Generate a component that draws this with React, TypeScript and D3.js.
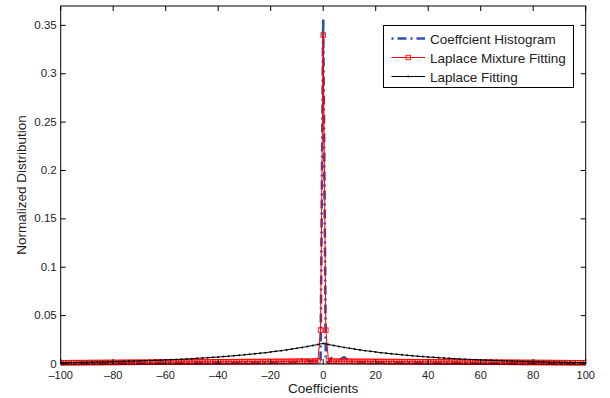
import React from "react";
import * as d3 from "d3";

const xTicks = [-100, -80, -60, -40, -20, 0, 20, 40, 60, 80, 100];
const yTicks = [0, 0.05, 0.1, 0.15, 0.2, 0.25, 0.3, 0.35];
const yTickLabels = ["0", "0.05", "0.1", "0.15", "0.2", "0.25", "0.3", "0.35"];
const seriesNames = ["Coeffcient Histogram", "Laplace Mixture Fitting", "Laplace Fitting"];

// Coefficient values (bins) for histogram and mixture fit
const coeffX = d3.range(-100, 101, 1);
// Coefficient values for the Laplace fit
const laplaceX = d3.range(-100, 101, 2);

const histogram = [
  0.0008, 0.0009, 0.0008, 0.0009, 0.0009, 0.0008, 0.0009, 0.0009, 0.0010, 0.0009,
  0.0009, 0.0010, 0.0009, 0.0010, 0.0010, 0.0009, 0.0010, 0.0010, 0.0011, 0.0010,
  0.0010, 0.0011, 0.0010, 0.0011, 0.0011, 0.0010, 0.0011, 0.0011, 0.0012, 0.0011,
  0.0011, 0.0012, 0.0011, 0.0012, 0.0012, 0.0011, 0.0012, 0.0012, 0.0013, 0.0012,
  0.0012, 0.0013, 0.0012, 0.0013, 0.0013, 0.0012, 0.0013, 0.0013, 0.0014, 0.0013,
  0.0013, 0.0014, 0.0013, 0.0014, 0.0014, 0.0013, 0.0014, 0.0014, 0.0015, 0.0014,
  0.0014, 0.0015, 0.0014, 0.0015, 0.0015, 0.0014, 0.0015, 0.0016, 0.0015, 0.0016,
  0.0015, 0.0016, 0.0016, 0.0015, 0.0017, 0.0016, 0.0016, 0.0017, 0.0016, 0.0017,
  0.0018, 0.0017, 0.0018, 0.0019, 0.0018, 0.0020, 0.0019, 0.0021, 0.0020, 0.0022,
  0.0024, 0.0030, 0.0048, 0.0060, 0.0042, 0.0022, 0.0030, 0.0058, 0.0015, 0.0045,
  0.3565,
  0.0042, 0.0012, 0.0062, 0.0050, 0.0026, 0.0022, 0.0055, 0.0070, 0.0048, 0.0028,
  0.0024, 0.0022, 0.0021, 0.0022, 0.0020, 0.0021, 0.0026, 0.0019, 0.0018, 0.0019,
  0.0017, 0.0018, 0.0017, 0.0016, 0.0017, 0.0016, 0.0016, 0.0015, 0.0016, 0.0015,
  0.0015, 0.0014, 0.0015, 0.0014, 0.0014, 0.0013, 0.0014, 0.0013, 0.0013, 0.0014,
  0.0013, 0.0012, 0.0013, 0.0013, 0.0012, 0.0012, 0.0013, 0.0012, 0.0012, 0.0011,
  0.0012, 0.0011, 0.0012, 0.0011, 0.0011, 0.0011, 0.0010, 0.0011, 0.0011, 0.0010,
  0.0010, 0.0011, 0.0010, 0.0010, 0.0010, 0.0009, 0.0010, 0.0010, 0.0009, 0.0010,
  0.0009, 0.0009, 0.0010, 0.0009, 0.0009, 0.0008, 0.0009, 0.0009, 0.0008, 0.0009,
  0.0008, 0.0009, 0.0008, 0.0008, 0.0008, 0.0007, 0.0008, 0.0008, 0.0007, 0.0008,
  0.0007, 0.0008, 0.0007, 0.0007, 0.0007, 0.0007, 0.0006, 0.0007, 0.0007, 0.0006,
];

const mixtureFit = [
  0.0013, 0.0013, 0.0013, 0.0013, 0.0014, 0.0014, 0.0014, 0.0014, 0.0014, 0.0014,
  0.0014, 0.0015, 0.0015, 0.0015, 0.0015, 0.0015, 0.0015, 0.0016, 0.0016, 0.0016,
  0.0016, 0.0016, 0.0016, 0.0017, 0.0017, 0.0017, 0.0017, 0.0017, 0.0017, 0.0018,
  0.0018, 0.0018, 0.0018, 0.0018, 0.0018, 0.0019, 0.0019, 0.0019, 0.0019, 0.0019,
  0.0019, 0.0020, 0.0020, 0.0020, 0.0020, 0.0020, 0.0020, 0.0021, 0.0021, 0.0021,
  0.0021, 0.0021, 0.0021, 0.0022, 0.0022, 0.0022, 0.0022, 0.0022, 0.0022, 0.0023,
  0.0023, 0.0023, 0.0023, 0.0023, 0.0023, 0.0024, 0.0024, 0.0024, 0.0024, 0.0024,
  0.0024, 0.0025, 0.0025, 0.0025, 0.0025, 0.0025, 0.0025, 0.0026, 0.0026, 0.0026,
  0.0026, 0.0026, 0.0026, 0.0027, 0.0027, 0.0027, 0.0027, 0.0027, 0.0027, 0.0028,
  0.0028, 0.0028, 0.0028, 0.0028, 0.0028, 0.0029, 0.0029, 0.0029, 0.0035, 0.0350,
  0.3400,
  0.0350, 0.0035, 0.0029, 0.0029, 0.0029, 0.0028, 0.0028, 0.0028, 0.0028, 0.0028,
  0.0028, 0.0027, 0.0027, 0.0027, 0.0027, 0.0027, 0.0027, 0.0026, 0.0026, 0.0026,
  0.0026, 0.0026, 0.0025, 0.0025, 0.0025, 0.0025, 0.0025, 0.0025, 0.0024, 0.0024,
  0.0024, 0.0024, 0.0024, 0.0024, 0.0023, 0.0023, 0.0023, 0.0023, 0.0023, 0.0023,
  0.0022, 0.0022, 0.0022, 0.0022, 0.0022, 0.0022, 0.0021, 0.0021, 0.0021, 0.0021,
  0.0021, 0.0021, 0.0020, 0.0020, 0.0020, 0.0020, 0.0020, 0.0020, 0.0019, 0.0019,
  0.0019, 0.0019, 0.0019, 0.0018, 0.0018, 0.0018, 0.0018, 0.0018, 0.0018, 0.0017,
  0.0017, 0.0017, 0.0017, 0.0017, 0.0017, 0.0016, 0.0016, 0.0016, 0.0016, 0.0016,
  0.0016, 0.0015, 0.0015, 0.0015, 0.0015, 0.0015, 0.0015, 0.0014, 0.0014, 0.0014,
  0.0014, 0.0014, 0.0014, 0.0013, 0.0013, 0.0013, 0.0013, 0.0013, 0.0013, 0.0013,
];

const laplaceFit = [
  0.00143, 0.00151, 0.00159, 0.00168, 0.00177, 0.00187, 0.00197, 0.00208, 0.00220, 0.00232,
  0.00245, 0.00259, 0.00273, 0.00288, 0.00304, 0.00321, 0.00339, 0.00358, 0.00378, 0.00399,
  0.00421, 0.00444, 0.00469, 0.00495, 0.00522, 0.00552, 0.00582, 0.00614, 0.00649, 0.00685,
  0.00723, 0.00763, 0.00805, 0.00850, 0.00897, 0.00947, 0.00999, 0.01055, 0.01114, 0.01175,
  0.01241, 0.01310, 0.01382, 0.01459, 0.01540, 0.01626, 0.01716, 0.01811, 0.01912, 0.02018,
  0.02130,
  0.02018, 0.01912, 0.01811, 0.01716, 0.01626, 0.01540, 0.01459, 0.01382, 0.01310, 0.01241,
  0.01175, 0.01114, 0.01055, 0.00999, 0.00947, 0.00897, 0.00850, 0.00805, 0.00763, 0.00723,
  0.00685, 0.00649, 0.00614, 0.00582, 0.00552, 0.00522, 0.00495, 0.00469, 0.00444, 0.00421,
  0.00399, 0.00378, 0.00358, 0.00339, 0.00321, 0.00304, 0.00288, 0.00273, 0.00259, 0.00245,
  0.00232, 0.00220, 0.00208, 0.00197, 0.00187, 0.00177, 0.00168, 0.00159, 0.00151, 0.00143,
];

const W = 610;
const H = 398;
const M = { left: 60.7, right: 585.7, top: 6, bottom: 364 };
const FONT = "'Liberation Sans', Arial, Helvetica, sans-serif";
const BLUE = "#2f4fae";
const RED = "#ff0000";

const fmtMinus = (v: number) => (v < 0 ? "\u2013" + Math.abs(v) : String(v));

export default function App() {
  const x = d3.scaleLinear().domain([-100, 100]).range([M.left, M.right]);
  const y = d3.scaleLinear().domain([0, 0.37]).range([M.bottom, M.top]);

  const line = d3
    .line<[number, number]>()
    .x((d) => x(d[0]))
    .y((d) => y(d[1]));

  const histPts: [number, number][] = coeffX.map((v, i) => [v, histogram[i]]);
  const mixPts: [number, number][] = coeffX.map((v, i) => [v, mixtureFit[i]]);
  const lapPts: [number, number][] = laplaceX.map((v, i) => [v, laplaceFit[i]]);

  const tickLen = 5;
  const ms = 4.5; // marker size

  const legend = { x0: 383.5, y0: 25.5, x1: 573.5, y1: 87.5 };
  const rowY = [38.5, 57.5, 76.5];
  const sampleX0 = 391.5;
  const sampleX1 = 425;
  const textX = 430;

  return (
    <svg
      width={W}
      height={H}
      style={{ position: "absolute", left: 0, top: 0, background: "#fff" }}
      fontFamily={FONT}
    >
      <rect x={0} y={0} width={W} height={H} fill="#fff" />
      <defs>
        <clipPath id="plotclip">
          <rect x={M.left} y={M.top} width={M.right - M.left} height={M.bottom - M.top + 3} />
        </clipPath>
      </defs>

      <g clipPath="url(#plotclip)">
        {/* histogram: dash-dot blue */}
        <path
          d={line(histPts) || ""}
          fill="none"
          stroke={BLUE}
          strokeWidth={2.6}
          strokeDasharray="9 4 2 4"
          strokeLinejoin="round"
        />
        {/* mixture fit: red with squares */}
        <path d={line(mixPts) || ""} fill="none" stroke={RED} strokeWidth={1} />
        {mixPts.map((d, i) => (
          <rect
            key={"m" + i}
            x={x(d[0]) - ms / 2}
            y={y(d[1]) - ms / 2}
            width={ms}
            height={ms}
            fill="none"
            stroke={RED}
            strokeOpacity={0.85}
            strokeWidth={1}
          />
        ))}
        {/* Laplace fit: black with dots */}
        <path d={line(lapPts) || ""} fill="none" stroke="#000" strokeWidth={1} />
        {lapPts.map((d, i) => (
          <circle key={"l" + i} cx={x(d[0])} cy={y(d[1])} r={1} fill="#000" />
        ))}
      </g>

      {/* axes box */}
      <rect
        x={M.left}
        y={M.top}
        width={M.right - M.left}
        height={M.bottom - M.top}
        fill="none"
        stroke="#000"
        strokeWidth={1}
      />

      {/* x ticks */}
      {xTicks.map((t) => (
        <g key={"xt" + t}>
          <line x1={x(t)} x2={x(t)} y1={M.bottom} y2={M.bottom - tickLen} stroke="#000" strokeWidth={1} />
          <line x1={x(t)} x2={x(t)} y1={M.top} y2={M.top + tickLen} stroke="#000" strokeWidth={1} />
          <text x={x(t)} y={M.bottom + 14.5} fontSize={11} textAnchor="middle" fill="#222">
            {fmtMinus(t)}
          </text>
        </g>
      ))}

      {/* y ticks */}
      {yTicks.map((t, i) => (
        <g key={"yt" + i}>
          <line x1={M.left} x2={M.left + tickLen} y1={y(t)} y2={y(t)} stroke="#000" strokeWidth={1} />
          <line x1={M.right} x2={M.right - tickLen} y1={y(t)} y2={y(t)} stroke="#000" strokeWidth={1} />
          <text x={M.left - 4} y={y(t) + 3.5} fontSize={11.5} textAnchor="end" fill="#222">
            {yTickLabels[i]}
          </text>
        </g>
      ))}

      {/* axis labels */}
      <text x={x(0)} y={393} fontSize={13.5} textAnchor="middle" fill="#222">
        Coefficients
      </text>
      <text
        transform={`translate(26, ${(M.top + M.bottom) / 2}) rotate(-90)`}
        fontSize={13.5}
        textAnchor="middle"
        fill="#222"
      >
        Normalized Distribution
      </text>

      {/* legend */}
      <rect
        x={legend.x0}
        y={legend.y0}
        width={legend.x1 - legend.x0}
        height={legend.y1 - legend.y0}
        fill="#fff"
        stroke="#000"
        strokeWidth={1}
      />
      <line
        x1={sampleX0}
        x2={sampleX1}
        y1={rowY[0]}
        y2={rowY[0]}
        stroke={BLUE}
        strokeWidth={2.5}
        strokeDasharray="2 4 9 4"
      />
      <line x1={sampleX0} x2={sampleX1} y1={rowY[1]} y2={rowY[1]} stroke={RED} strokeWidth={1} />
      <rect
        x={(sampleX0 + sampleX1) / 2 - ms / 2}
        y={rowY[1] - ms / 2}
        width={ms}
        height={ms}
        fill="none"
        stroke={RED}
        strokeWidth={0.9}
      />
      <line x1={sampleX0} x2={sampleX1} y1={rowY[2]} y2={rowY[2]} stroke="#000" strokeWidth={1} />
      <circle cx={(sampleX0 + sampleX1) / 2} cy={rowY[2]} r={1} fill="#000" />
      {seriesNames.map((s, i) => (
        <text key={s} x={textX} y={rowY[i] + 5} fontSize={13.5} fill="#222">
          {s}
        </text>
      ))}
    </svg>
  );
}
